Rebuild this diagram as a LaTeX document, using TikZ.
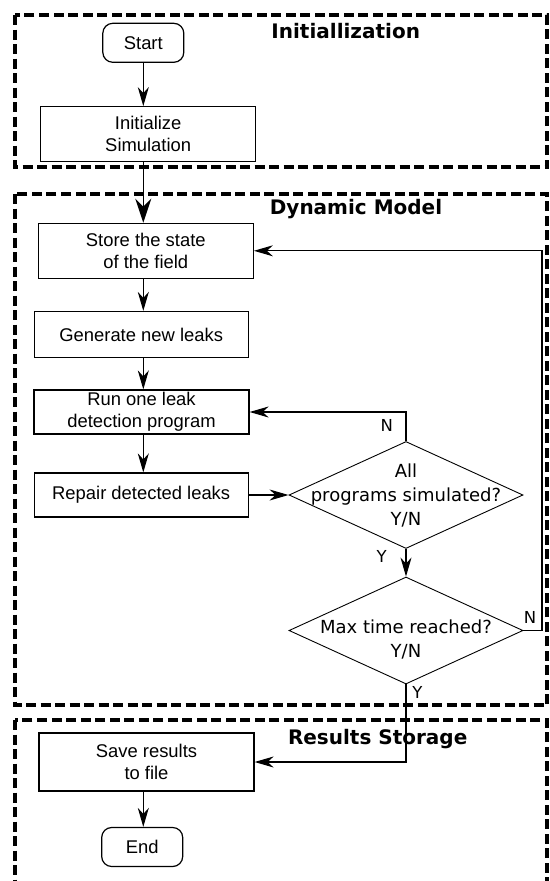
\documentclass[tikz,border=0pt]{standalone}
\usepackage{fontspec}
\setmainfont{Liberation Sans}
\newfontfamily\dvsans{DejaVu Sans}
\usetikzlibrary{shapes.geometric,arrows.meta}

\begin{document}
\begin{tikzpicture}
      [
      x=1pt,y=-1pt,
      stage/.style={line width=3.6pt,dash pattern=on 10pt off 4.5pt},
      stagetitle/.style={anchor=base,inner sep=0pt,font=\dvsans\bfseries\fontsize{20}{24}\selectfont},
      process/.style={rectangle,draw,line width=1.2pt,minimum width=215pt,align=center,inner sep=0pt,font=\fontsize{18.4}{22.3}\selectfont},
      terminal/.style={rectangle,rounded corners=10pt,draw,line width=1.2pt,minimum width=81pt,minimum height=39pt,inner sep=0pt,font=\fontsize{18.4}{22.3}\selectfont},
      decision/.style={diamond,draw,line width=0.9pt,minimum width=234pt,minimum height=107pt,inner sep=0pt},
      dtext/.style={align=center,inner sep=0pt,font=\dvsans\fontsize{18}{24}\selectfont},
      answer/.style={inner sep=0pt,font=\dvsans\fontsize{16.5}{20}\selectfont},
      flow/.style={-{Stealth[length=19pt,width=11pt,inset=6pt]},line width=1.2pt}
      ]
      \useasboundingbox (0,0) rectangle (549,881);
      \clip (0,0) rectangle (549,881);
      % the three stages
      \draw [stage] (15,15) rectangle (547,167);
      \draw [stage] (15,194) rectangle (547,705);
      \draw [stage] (15,720) rectangle (547,900);
      \node (t1) at (345.7,38) [stagetitle] {Initiallization};
      \node (t2) at (356,214.6) [stagetitle] {Dynamic Model};
      \node (t3) at (377.7,744.6) [stagetitle] {Results Storage};
      % steps
      \node (start) at (143.3,42.8) [terminal] {Start};
      \node (init) at (148.2,134.2) [process,minimum height=55pt] {Initialize\\Simulation};
      \node (store) at (145.8,250.8) [process,minimum height=55pt] {Store the state\\of the field};
      \node (gen) at (141.2,334.5) [process,minimum width=214pt,minimum height=46pt] {Generate new leaks};
      \node (run) at (141.5,412) [process,minimum height=44pt] {Run one leak\\detection program};
      \node (repair) at (141.2,495) [process,minimum width=214pt,minimum height=44pt] {Repair detected leaks};
      \node (d1) at (406,495) [decision] {};
      \node (d1txt) at (d1) [dtext] {All\\programs simulated?\\Y/N};
      \node (d2) at (406,630.5) [decision] {};
      \node (d2txt) at ([yshift=-9pt]d2.center) [dtext] {Max time reached?\\Y/N};
      \node (save) at (146.5,762) [process,minimum height=58pt] {Save results\\to file};
      \node (end) at (142.2,847) [terminal] {End};
      \coordinate (loop) at (542,400);
      % connectors
      \draw [flow] (start) -- (start |- init.north);
      \draw [flow,line width=1.6pt,-{Stealth[length=24pt,width=16pt,inset=8pt]}] (init.south -| start) -- (start |- store.north);
      \draw [flow] (store.south -| start) -- (start |- gen.north);
      \draw [flow] (gen.south -| start) -- (start |- run.north);
      \draw [flow] (run.south -| start) -- (start |- repair.north);
      \draw [flow] (repair) -- (d1);
      \draw [flow] (d1.north) |- (run.east);
      \draw [flow] (d1.south) -- (d2.north);
      \draw [flow] (d2.east) -| (loop) |- (store.east);
      \draw [flow] (d2.south) |- (save.east);
      \draw [flow] (save.south -| start) -- (start |- end.north);
      \node (n1) at (386.7,425) [answer] {N};
      \node (y1) at (381.7,556.7) [answer] {Y};
      \node (n2) at (530,617) [answer] {N};
      \node (y2) at (417.5,692) [answer] {Y};
    \end{tikzpicture}
\end{document}
